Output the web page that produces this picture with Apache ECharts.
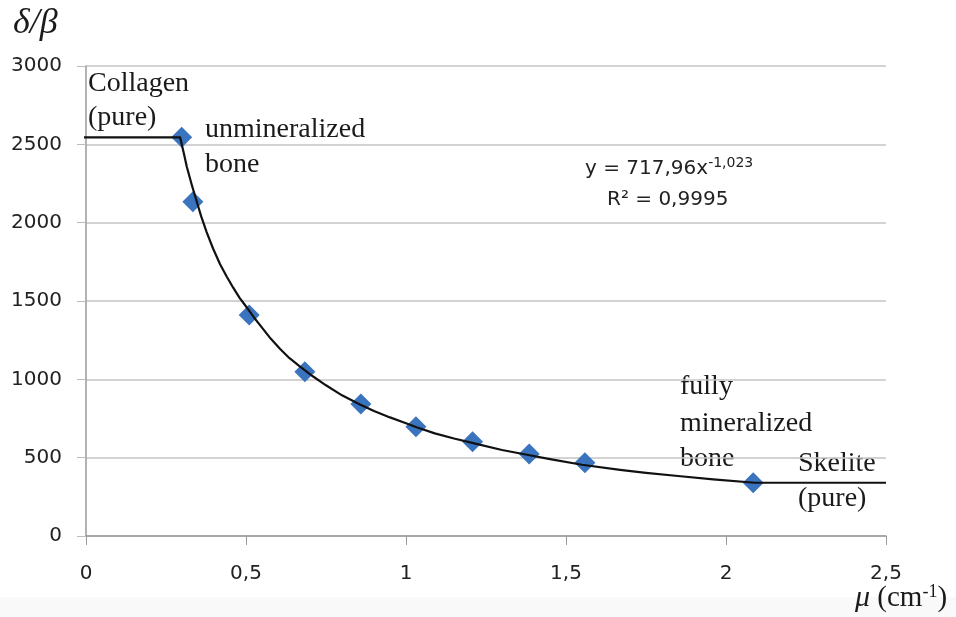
<!DOCTYPE html>
<html>
<head>
<meta charset="utf-8">
<script src="https://cdn.jsdelivr.net/npm/echarts@6/dist/echarts.min.js"></script>
<style>html,body{margin:0;padding:0;background:#fff}#c{width:956px;height:617px}</style>
</head>
<body>
<div id="c"></div>
<script>
// measured points (mu, delta/beta)
const muPoints = [0.299, 0.334, 0.510, 0.684, 0.859, 1.031, 1.208, 1.385, 1.559, 2.085];
const dbPoints = [2545, 2134, 1411, 1049, 843, 698, 602, 523, 468, 340];
// trend curve
const curveMu = [-0.044, 0.294, 0.305, 0.315, 0.33, 0.346, 0.36, 0.377, 0.397, 0.419, 0.44, 0.46, 0.48, 0.502, 0.525, 0.55, 0.577, 0.606, 0.636, 0.669, 0.71, 0.75, 0.8, 0.856, 0.9, 0.95, 1.0, 1.033, 1.09, 1.15, 1.22, 1.3, 1.37, 1.45, 1.55, 1.669, 1.75, 1.85, 1.96, 2.09, 2.5];
const curveDb = [2545, 2545, 2450, 2357, 2245, 2135, 2040, 1940, 1835, 1735, 1655, 1585, 1520, 1460, 1395, 1330, 1260, 1195, 1135, 1081, 1018, 962, 898, 840, 798, 757, 720, 694, 655, 622, 588, 549, 522, 491, 455, 422, 403, 383, 362, 340, 340];
const yTicks = [0, 500, 1000, 1500, 2000, 2500, 3000];
const xTicks = [0, 0.5, 1, 1.5, 2, 2.5];

const chart = echarts.init(document.getElementById('c'));
const serif = '"Liberation Serif", "DejaVu Serif", serif';
const sans = '"DejaVu Sans", "Open Sans", sans-serif';
const annot = (txt, x, y) => ({type:'text', left:x, top:y, style:{text:txt, font:'28px ' + serif, fill:'#1a1a1a'}});

chart.setOption({
  backgroundColor:'#ffffff',
  animation:false,
  grid:{left:86, top:66, right:70, bottom:81},
  xAxis:{
    type:'value', min:xTicks[0], max:xTicks[xTicks.length-1], interval:0.5,
    axisLine:{show:true, lineStyle:{color:'#9a9a9a', width:1.5}},
    axisTick:{show:true, length:9, lineStyle:{color:'#9a9a9a'}},
    splitLine:{show:false},
    axisLabel:{margin:28, fontFamily:sans, fontSize:20, color:'#222', formatter:v=>String(v).replace('.', ',')}
  },
  yAxis:{
    type:'value', min:yTicks[0], max:yTicks[yTicks.length-1], interval:500,
    axisLine:{show:true, lineStyle:{color:'#9a9a9a', width:1.5}},
    axisTick:{show:true, length:9, lineStyle:{color:'#bcbcbc'}},
    splitLine:{show:true, lineStyle:{color:'#c4c4c4', width:1.5}},
    axisLabel:{margin:24, fontFamily:sans, fontSize:20, color:'#222', formatter:v=>String(v)}
  },
  series:[
    {
      type:'scatter', name:'data',
      data: muPoints.map((m,i)=>[m, dbPoints[i]]),
      symbol:'diamond', symbolSize:[21,21],
      itemStyle:{color:'#3b74be', opacity:1}, z:2
    },
    {
      type:'line', name:'trend',
      data: curveMu.map((m,i)=>[m, curveDb[i]]),
      smooth:false, showSymbol:false, symbol:'none', clip:false,
      lineStyle:{color:'#111', width:2.2, join:'round'}, z:3
    }
  ],
  graphic:[
    {type:'rect', left:0, top:597, shape:{width:956, height:20}, style:{fill:'#f9f9f9'}, z:-10},
    {type:'text', left:13, top:6, style:{text:'δ/β', font:'italic 36px ' + serif, fill:'#1a1a1a'}},
    {type:'text', left:855, top:583, style:{
      text:'{i|μ} (cm{s|-1})', font:'29px ' + serif, fill:'#1a1a1a',
      rich:{i:{font:'italic 30px ' + serif, fill:'#1a1a1a'}, s:{font:'18px ' + serif, fill:'#1a1a1a', verticalAlign:'top', padding:[0,0,12,0]}}
    }},
    annot('Collagen', 88, 70), annot('(pure)', 88, 104),
    annot('unmineralized', 205, 116), annot('bone', 205, 151),
    annot('fully', 680, 373), annot('mineralized', 680, 410), annot('bone', 680, 445),
    annot('Skelite', 798, 450), annot('(pure)', 798, 485),
    {type:'text', left:585, top:156, style:{
      text:'y = 717,96x{s|-1,023}', font:'20px ' + sans, fill:'#222',
      rich:{s:{font:'14px ' + sans, fill:'#222', verticalAlign:'top', padding:[0,0,12,0]}}
    }},
    {type:'text', left:607, top:190, style:{text:'R² = 0,9995', font:'20px ' + sans, fill:'#222'}}
  ]
});
</script>
</body>
</html>
